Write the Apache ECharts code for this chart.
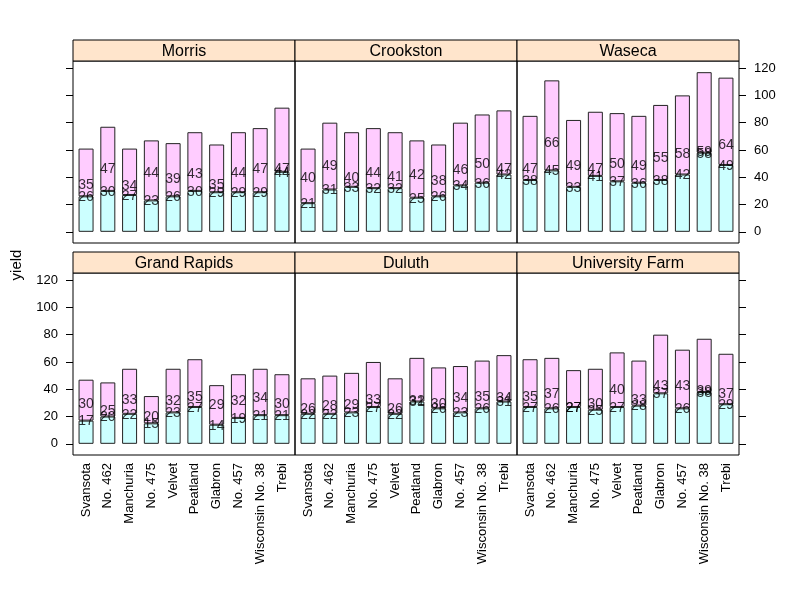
<!DOCTYPE html>
<html>
<head>
<meta charset="utf-8">
<script src="https://cdn.jsdelivr.net/npm/echarts@6/dist/echarts.min.js"></script>
<style>html,body{margin:0;padding:0;background:#fff}#c{width:800px;height:600px}</style>
</head>
<body>
<div id="c"></div>
<script>
const varieties = ['Svansota','No. 462','Manchuria','No. 475','Velvet','Peatland','Glabron','No. 457','Wisconsin No. 38','Trebi'];
const sites = ['Morris','Crookston','Waseca','Grand Rapids','Duluth','University Farm'];
const yTicks = [0,20,40,60,80,100,120];

const morrisLow = [26,30,27,23,26,30,29,29,29,44];
const morrisHigh = [35,47,34,44,39,43,35,44,47,47];
const crookstonLow = [21,31,33,32,32,25,26,34,36,42];
const crookstonHigh = [40,49,40,44,41,42,38,46,50,47];
const wasecaLow = [38,45,33,41,37,36,38,42,58,49];
const wasecaHigh = [47,66,49,47,50,49,55,58,59,64];
const grandRapidsLow = [17,20,22,15,23,27,14,19,21,21];
const grandRapidsHigh = [30,25,33,20,32,35,29,32,34,30];
const duluthLow = [22,22,23,27,22,31,26,23,26,31];
const duluthHigh = [26,28,29,33,26,32,30,34,35,34];
const univFarmLow = [27,26,27,25,27,28,37,26,38,29];
const univFarmHigh = [35,37,27,30,40,33,43,43,39,37];

const lowData = [morrisLow, crookstonLow, wasecaLow, grandRapidsLow, duluthLow, univFarmLow];
const highData = [morrisHigh, crookstonHigh, wasecaHigh, grandRapidsHigh, duluthHigh, univFarmHigh];

const FONT = 'Liberation Sans, Arial, Helvetica, sans-serif';
const panelLeft = [73, 295, 517];
const panelW = 222;
const panelH = 182;
const stripH = 21;
const rowStripTop = [40, 252];
// lattice pads the category range by 0.1 unit on each side (0.4 .. 10.6)
const inset = panelW * 0.1 / 10.2;
const gridW = panelW - 2 * inset;

const grids = [], xAxes = [], yAxes = [], series = [], graphics = [];

for (let i = 0; i < 6; i++) {
  const col = i % 3, row = Math.floor(i / 3);
  const left = panelLeft[col];
  const top = rowStripTop[row] + stripH;
  grids.push({left: left + inset, top: top, width: gridW, height: panelH, containLabel: false});
  xAxes.push({
    type: 'category', gridIndex: i, data: varieties, boundaryGap: true,
    axisLine: {show: false}, axisTick: {show: false}, splitLine: {show: false},
    axisLabel: {
      show: row === 1, interval: 0, rotate: 90, fontSize: 13,
      fontFamily: FONT, color: '#000', margin: 8
    }
  });
  let tickShow = false, labelShow = false, pos = 'left';
  if (i === 0) { tickShow = true; pos = 'left'; }
  if (i === 2) { tickShow = true; labelShow = true; pos = 'right'; }
  if (i === 3) { tickShow = true; labelShow = true; pos = 'left'; }
  if (i === 5) { tickShow = true; pos = 'right'; }
  yAxes.push({
    type: 'value', gridIndex: i, min: -8.2, max: 125.2, position: pos, offset: inset,
    axisLine: {show: false}, splitLine: {show: false},
    axisTick: {show: tickShow, customValues: yTicks, length: 7, inside: false,
      lineStyle: {color: '#000', width: 1}},
    axisLabel: {show: labelShow, customValues: yTicks, fontSize: 13, fontFamily: FONT,
      color: '#000', margin: 15}
  });
  const low = lowData[i], high = highData[i];
  series.push({
    type: 'bar', name: '1932', xAxisIndex: i, yAxisIndex: i, stack: 's' + i, barWidth: 15,
    data: low,
    itemStyle: {color: '#CCFFFF', borderColor: '#222', borderWidth: 1},
    animation: false
  });
  series.push({
    type: 'bar', name: '1931', xAxisIndex: i, yAxisIndex: i, stack: 's' + i, barWidth: 15,
    data: high,
    itemStyle: {color: '#FFCCFF', borderColor: '#222', borderWidth: 1},
    animation: false
  });
  [low, high].forEach(arr => {
    series.push({
      type: 'scatter', xAxisIndex: i, yAxisIndex: i, symbolSize: 1,
      itemStyle: {color: 'transparent'}, z: 5, animation: false, silent: true,
      data: arr,
      label: {show: true, position: 'inside', formatter: p => String(p.value),
        fontSize: 14, fontFamily: FONT, color: '#000', textBorderWidth: 0,
        textBorderColor: 'transparent', offset: [0, 1]}
    });
  });
  graphics.push({
    type: 'rect', shape: {x: left, y: top, width: panelW, height: panelH},
    style: {fill: null, stroke: '#000', lineWidth: 1}, z: 10, silent: true
  });
  graphics.push({
    type: 'rect', shape: {x: left, y: rowStripTop[row], width: panelW, height: stripH},
    style: {fill: '#FFE5CC', stroke: '#000', lineWidth: 1}, z: 10
  });
  graphics.push({
    type: 'text', x: left + panelW / 2, y: rowStripTop[row] + stripH / 2 + 1,
    style: {text: sites[i], fill: '#000', font: '16px ' + FONT, textAlign: 'center', textVerticalAlign: 'middle'},
    z: 11
  });
}
graphics.push({
  type: 'text', x: 17, y: 265, rotation: Math.PI / 2,
  style: {text: 'yield', fill: '#000', font: '15px ' + FONT, textAlign: 'center', textVerticalAlign: 'middle'},
  z: 11
});

const chart = echarts.init(document.getElementById('c'), null, {renderer: 'canvas'});
chart.setOption({
  animation: false,
  backgroundColor: '#fff',
  grid: grids, xAxis: xAxes, yAxis: yAxes, series: series, graphic: graphics
});
</script>
</body>
</html>
